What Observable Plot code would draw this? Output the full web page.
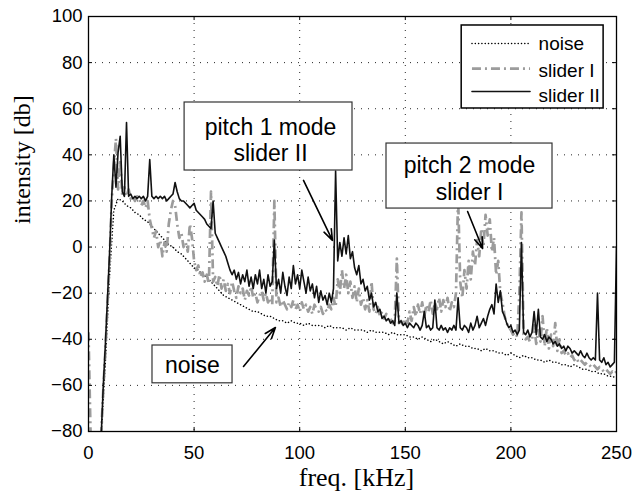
<!DOCTYPE html>
<html><head><meta charset="utf-8">
<script src="https://cdn.jsdelivr.net/npm/d3@7"></script>
<script src="https://cdn.jsdelivr.net/npm/@observablehq/plot@0.6"></script>
<style>html,body{margin:0;padding:0;background:#fff;} #chart svg{display:block;}</style>
</head><body><div id="chart"></div>
<script>
// ---------- data ----------
const xTicks = [0, 50, 100, 150, 200, 250];
const yTicks = [-80, -60, -40, -20, 0, 20, 40, 60, 80, 100];
const seriesNames = ["noise", "slider I", "slider II"];

// noise: starts at 6 kHz, one value every 2 kHz
const noiseStart = 6, noiseStep = 2;
const noiseValues = [
  -82, -50, -12, 16, 21, 20, 18, 17, 15, 14,
  12, 11, 9, 7, 5, 3, 1, 0, -2, -3,
  -5, -7, -9, -10, -12, -13, -15, -17, -19, -21,
  -22, -23, -24, -25, -26, -27, -28, -28, -29, -30,
  -30, -31, -32, -32, -33, -32, -33, -33, -34, -33,
  -34, -34, -34, -35, -34, -35, -35, -35, -36, -35,
  -36, -36, -36, -37, -36, -37, -37, -37, -38, -37,
  -38, -38, -38, -39, -39, -40, -39, -40, -41, -40,
  -41, -42, -41, -42, -43, -42, -43, -43, -44, -44,
  -45, -44, -45, -45, -46, -46, -47, -46, -47, -48,
  -47, -48, -48, -49, -49, -50, -49, -50, -50, -51,
  -51, -52, -51, -52, -53, -53, -54, -54, -55, -55,
  -56, -56, -57
];

// slider I: starts at 0 kHz, one value per kHz
const sliderIStart = 0, sliderIStep = 1;
const sliderIValues = [
  -37, -82, null, null, null, null, -82, -62, -45, -25,
  -5, 20, 35, 47, 25, 38, 22, 26, 22, 25,
  21, 22, 20, 22, 21, 18, 20, 17, 20, 12,
  8, 4, 7, 0, 3, -4, 2, -2, 10, 16,
  20, 18, 10, 4, 6, 0, 2, -2, 10, 4,
  -6, -10, -8, -13, -11, -15, -12, -16, 24, -15,
  -13, -17, -12, -18, -14, -19, -16, -20, -15, -19,
  -22, -17, -20, -18, -23, -19, -21, -17, -22, -20,
  -24, -21, -19, -23, -20, -24, -22, -25, 20, -24,
  -22, -26, -23, -25, -27, -24, -26, -23, -27, -25,
  -28, -24, -27, -25, -28, -26, -29, -25, -27, -28,
  -26, -29, -27, -28, -25, -27, -22, -26, -14, -20,
  -10, -18, -12, -20, -15, -22, -17, -24, -18, -25,
  -22, -27, -23, -28, -15, -27, -29, -26, -30, -28,
  -31, -29, -32, -31, -33, -32, -5, -33, -32, -34,
  -31, -33, -28, -32, -26, -30, -25, -29, -24, -30,
  -25, -28, -23, -29, -24, -27, -22, -28, -23, -26,
  -22, -28, -24, -26, -20, 22, -15, -22, -10, -18,
  -6, -14, -2, -8, 3, -4, 8, 0, 14, 5,
  12, -2, 4, -12, -6, -20, -24, -30, -33, -35,
  -36, -38, -37, -39, -20, 15, -38, -40, -39, -41,
  -40, -34, -42, -36, -41, -30, -43, -35, -44, -38,
  -43, -33, -45, -40, -46, -45, -47, -46, -48, -47,
  -49, -48, -50, -49, -50, -51, -50, -51, -52, -51,
  -52, -53, -52, -53, -54, -53, -54, -55, -54, -55,
  -54
];

// slider II: starts at 6 kHz, one value per kHz
const sliderIIStart = 6, sliderIIStep = 1;
const sliderIIValues = [
  -82, -60, -42, -22, -2, 22, 40, 26, 41, 48,
  24, 22, 54, 22, 23, 21, 22, 21, 22, 21,
  22, 20, 22, 38, 22, 21, 22, 21, 22, 21,
  22, 20, 21, 22, 23, 28, 24, 21, 20, 20,
  19, 18, 17, 18, 19, 16, 15, 14, 13, 12,
  10, 9, 8, 20, 6, 4, 2, 0, -2, -4,
  -7, -10, -12, -10, -14, -11, -16, -12, -15, -10,
  -17, -13, -18, -12, -16, -10, -18, -14, -20, -12,
  -17, -15, 3, -18, -14, -20, -11, -17, -21, -13,
  -18, -8, -16, -12, -18, -10, -15, -20, -13, -19,
  -16, -22, -17, -24, -19, -23, -21, -25, -20, -24,
  -18, 33, -6, 2, -4, 4, -3, 5, -5, -2,
  -9, -12, -8, -16, -14, -19, -17, -23, -20, -26,
  -24, -28, -27, -31, -30, -32, -31, -33, -32, -34,
  -20, -33, -32, -34, -33, -35, -33, -34, -35, -33,
  -34, -36, -34, -28, -35, -34, -36, -35, -23, -35,
  -36, -34, -36, -35, -37, -35, -36, -34, -36, -22,
  -35, -36, -34, -35, -37, -33, -36, -34, -30, -35,
  -33, -31, -34, -30, -27, -25, -29, -16, -24, -19,
  -28, -30, -33, -35, -34, -37, -36, -38, -36, 2,
  -37, -38, -36, -39, -37, -28, -38, -27, -39, -40,
  -38, -41, -39, -40, -42, -41, -43, -42, -44, -43,
  -45, -43, -44, -46, -45, -46, -47, -45, -47, -48,
  -46, -48, -49, -48, -49, -20, -49, -50, -48, -51,
  -50, -52, -51, -50, 0
];

// annotations (text, box and arrow in data units: kHz, dB)
const annotationLabels = ["pitch 1 mode\nslider II", "pitch 2 mode\nslider I", "noise"];
const annotationTextAt = [[86.2, 46.7], [180.4, 30.0], [49.2, -50.9]];
const annotationBoxes = [[45.5, 125.0, 33.2, 62.7], [141.1, 219.7, 16.7, 44.9], [30.3, 68.2, -59.1, -42.7]];
const annotationArrows = [[101.8, 28.9, 115.5, 2.9], [179.5, 15.4, 186.6, -0.6], [73.4, -51.8, 88.5, -34.9]];

// ---------- build ----------
const toPoints = (start, step, vals) =>
  vals.map((v, i) => ({f: start + i * step, v: v == null ? NaN : v}));
const noise = toPoints(noiseStart, noiseStep, noiseValues);
const sliderI = toPoints(sliderIStart, sliderIStep, sliderIValues);
const sliderII = toPoints(sliderIIStart, sliderIIStep, sliderIIValues);

const styles = [
  {stroke: "#000", strokeWidth: 1.5, strokeDasharray: "0.1,3.2", strokeLinecap: "round"},
  {stroke: "#9c9c9c", strokeWidth: 2.7, strokeDasharray: "9,4,2,4", strokeLinecap: "butt"},
  {stroke: "#111", strokeWidth: 1.6, strokeDasharray: null, strokeLinecap: "round"}
];

const annText = annotationLabels.map((t, i) => ({text: t, x: annotationTextAt[i][0], y: annotationTextAt[i][1]}));
const annBox = annotationBoxes.map(b => ({x1: b[0], x2: b[1], y1: b[2], y2: b[3]}));
const annArrow = annotationArrows.map(a => ({x1: a[0], y1: a[1], x2: a[2], y2: a[3]}));

// legend layout (data units)
const legendBox = [{x1: 176.7, x2: 243.9, y1: 60.1, y2: 96.1}];
const legendLineY = [88.3, 77.4, 67.5];
const legendTextY = [88.3, 76.6, 65.6];
const legendX1 = 181.8, legendX2 = 209.3, legendTextX = 213.1;

const tickLenX = 1.9, tickLenY = 1.75;
const sans = "'Liberation Sans', Arial, Helvetica, sans-serif";
const serif = "'Liberation Serif', 'Times New Roman', serif";

const marks = [
  Plot.gridX(xTicks, {stroke: "#000", strokeOpacity: 0.85, strokeWidth: 1, strokeDasharray: "1,6"}),
  Plot.gridY(yTicks, {stroke: "#000", strokeOpacity: 0.85, strokeWidth: 1, strokeDasharray: "1,6"}),
  Plot.line(noise, {x: "f", y: "v", clip: true, ...styles[0]}),
  Plot.line(sliderI, {x: "f", y: "v", clip: true, ...styles[1]}),
  Plot.line(sliderII, {x: "f", y: "v", clip: true, strokeLinejoin: "round", ...styles[2]}),
  // inward ticks on all four sides
  Plot.ruleX(xTicks, {x: d => d, y1: -80, y2: -80 + tickLenY, stroke: "#000"}),
  Plot.ruleX(xTicks, {x: d => d, y1: 100, y2: 100 - tickLenY, stroke: "#000"}),
  Plot.ruleY(yTicks, {y: d => d, x1: 0, x2: tickLenX, stroke: "#000"}),
  Plot.ruleY(yTicks, {y: d => d, x1: 250, x2: 250 - tickLenX, stroke: "#000"}),
  Plot.frame({stroke: "#000", strokeWidth: 1.3}),
  Plot.axisX(xTicks, {tickSize: 0, tickPadding: 14, fontSize: 18.5, fontFamily: sans, label: null}),
  Plot.axisY(yTicks, {tickSize: 0, tickPadding: 6, fontSize: 18.5, fontFamily: sans, label: null}),
  Plot.text(["freq. [kHz]"], {text: d => d, frameAnchor: "bottom", lineAnchor: "middle", dx: 4, dy: 46, fontSize: 26, fontFamily: serif, fill: "#000"}),
  Plot.text(["intensity [db]"], {text: d => d, frameAnchor: "left", lineAnchor: "middle", dx: -66, rotate: -90, fontSize: 24, fontFamily: serif, fill: "#000"}),
  // annotations
  Plot.rect(annBox, {x1: "x1", x2: "x2", y1: "y1", y2: "y2", fill: "#fff", stroke: "#333", strokeWidth: 1.2}),
  Plot.text(annText, {x: "x", y: "y", text: "text", fontSize: 23, fontFamily: sans, lineHeight: 1.15, fill: "#000"}),
  Plot.arrow(annArrow, {x1: "x1", y1: "y1", x2: "x2", y2: "y2", stroke: "#000", strokeWidth: 1.6, headLength: 11, headAngle: 40}),
  // legend
  Plot.rect(legendBox, {x1: "x1", x2: "x2", y1: "y1", y2: "y2", fill: "#fff", stroke: "#000", strokeWidth: 1.5}),
  ...seriesNames.map((name, i) => Plot.ruleY([legendLineY[i]], {x1: legendX1, x2: legendX2, ...styles[i]})),
  Plot.text(seriesNames, {x: legendTextX, y: (d, i) => legendTextY[i], text: d => d, textAnchor: "start", fontSize: 19, fontFamily: sans, fill: "#000"})
];

const chart = Plot.plot({
  width: 635,
  height: 493,
  marginLeft: 88,
  marginRight: 19,
  marginTop: 16,
  marginBottom: 62,
  x: {domain: [0, 250], ticks: xTicks, label: null},
  y: {domain: [-80, 100], ticks: yTicks, label: null},
  style: {background: "#fff", color: "#000", fontFamily: sans, fontSize: "17px", overflow: "visible"},
  marks
});
document.getElementById("chart").appendChild(chart);
</script>
</body></html>
